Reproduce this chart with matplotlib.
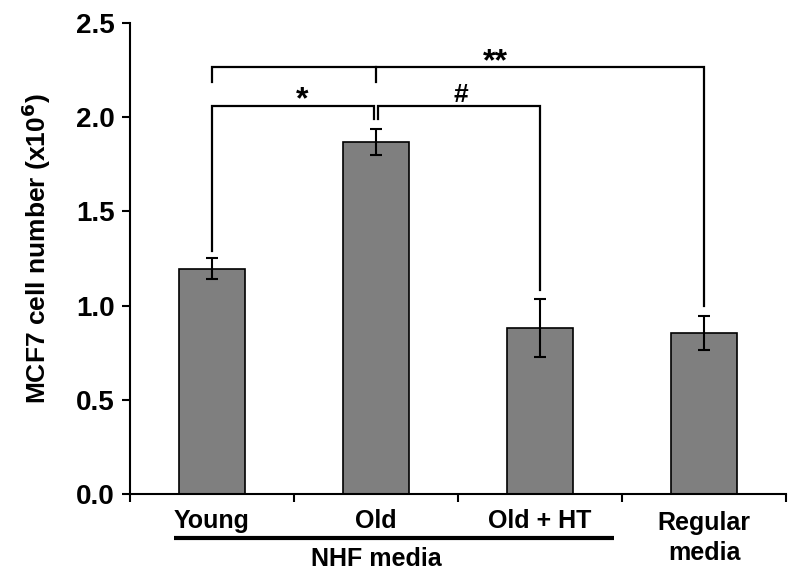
import matplotlib
matplotlib.use('Agg')
import matplotlib.pyplot as plt
import numpy as np

plt.rcParams['font.family'] = ['Liberation Sans', 'DejaVu Sans']
plt.rcParams['font.weight'] = 'bold'

# data
groups = ['Young', 'Old', 'Old + HT', 'Regular\nmedia']
cells = [1.195, 1.87, 0.88, 0.855]
err = [0.055, 0.07, 0.155, 0.09]

yticks = [0.0, 0.5, 1.0, 1.5, 2.0, 2.5]

# significance brackets: (x1, x2, y, left leg end, right leg end)
brackets = [
    (0, 3, 2.266, 2.187, 0.998),
    (0, 0.985, 2.06, 1.29, 1.99),
    (1.015, 2, 2.06, 1.99, 1.083),
]
marks = [('**', 1.73, 2.266), ('*', 0.55, 2.06), ('#', 1.52, 2.06)]

fig = plt.figure(figsize=(7.89, 5.75), dpi=100)
ax = fig.add_axes([0.1648, 0.1409, 0.8314, 0.8191])

x = np.arange(len(groups))
ax.bar(x, cells, width=0.4, color='#7f7f7f', edgecolor='black', linewidth=1.2,
       yerr=err, error_kw=dict(ecolor='black', elinewidth=1.5, capsize=4, capthick=1.5))

for x1, x2, y, l, r in brackets:
    ax.plot([x1, x1, x2, x2], [l, y, y, r], color='black', lw=1.6,
            solid_joinstyle='miter', clip_on=False)
# middle leg of the long bracket (at Old)
ax.plot([1, 1], [2.187, 2.266], color='black', lw=1.6)

for s, mx, my in marks:
    if s == '#':
        fs, off = 19, -1
    else:
        fs, off = 23, -7
    ax.annotate(s, (mx, my), xytext=(0, off), textcoords='offset points',
                ha='center', va='bottom', fontsize=fs, fontweight='bold')

ax.set_xlim(-0.5, 3.5)
ax.set_ylim(0, 2.5)
ax.set_yticks(yticks)
ax.set_yticklabels(['%.1f' % t for t in yticks], fontsize=20, fontweight='bold')
ax.set_xticks(np.arange(-0.5, 4, 1))
ax.set_xticklabels([])
ax.tick_params(axis='both', direction='out', length=6, width=1.5)
ax.tick_params(axis='y', pad=5)
ax.spines['top'].set_visible(False)
ax.spines['right'].set_visible(False)
ax.spines['left'].set_linewidth(1.5)
ax.spines['bottom'].set_linewidth(1.5)

ax.set_ylabel('MCF7 cell number (x10$^{\\mathbf{6}}$)', fontsize=19, fontweight='bold')
ax.yaxis.set_label_coords(-0.118, 0.52)

# category labels below the axis
xt = ax.get_xaxis_transform()
for i, g in enumerate(groups):
    yy = -0.093 if '\n' in g else -0.057
    ax.text(i, yy, g, transform=xt, ha='center', va='center',
            fontsize=18, fontweight='bold', linespacing=1.3)

# NHF media underline
ax.plot([-0.23, 2.45], [-0.0934, -0.0934], transform=xt,
        color='black', lw=3, clip_on=False, solid_capstyle='butt')
ax.text(1, -0.138, 'NHF media', transform=xt, ha='center', va='center',
        fontsize=18, fontweight='bold')

fig.savefig('out.png', dpi=100)
